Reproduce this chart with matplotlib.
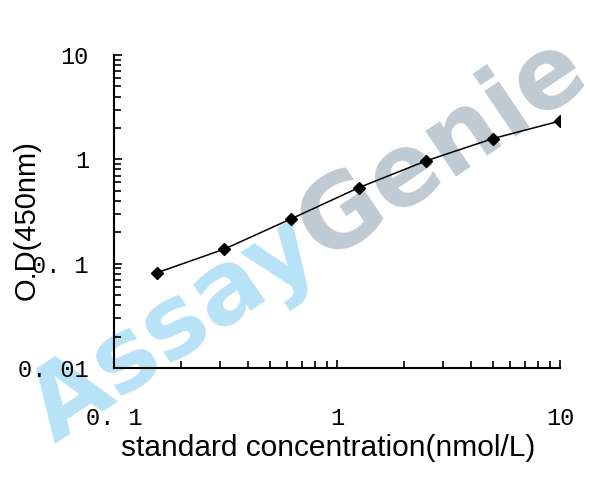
import numpy as np
import matplotlib
matplotlib.use("Agg")
import matplotlib.pyplot as plt
from matplotlib.ticker import LogLocator, NullFormatter, FixedLocator, FixedFormatter

# standard curve data
conc = [0.15625, 0.3125, 0.625, 1.25, 2.5, 5, 10]  # nmol/L
od = [0.082, 0.138, 0.270, 0.534, 0.964, 1.58, 2.33]  # O.D 450nm

x_ticks = [0.1, 1, 10]
x_tick_labels = ['0. 1', '1', '10']
y_ticks = [0.01, 0.1, 1, 10]
y_tick_labels = ['0. 01', '0. 1', '1', '10']

W, H = 590, 478
fig = plt.figure(figsize=(W / 100, H / 100), dpi=100)
ax = fig.add_axes([0.1932, 0.2301, 0.7558, 0.6548])
ax.set_facecolor('none')

# watermark, drawn behind the curve
angle = 34
wm_size = 72
wm_font = 'DejaVu Sans'
x0, y0 = 54, H - 444  # baseline start of "Assay" in pixels
fig.canvas.draw()
tmp = fig.text(0, 0, 'Assay', fontsize=wm_size, fontweight='bold', family=wm_font)
adv = tmp.get_window_extent(fig.canvas.get_renderer()).width
tmp.remove()
x1 = x0 + adv * np.cos(np.radians(angle))
y1 = y0 + adv * np.sin(np.radians(angle))
ax.text(x0 / W, y0 / H, 'Assay', fontsize=wm_size, fontweight='bold', color='#b8e2f6',
        rotation=angle, rotation_mode='anchor', ha='left', va='baseline',
        family=wm_font, transform=fig.transFigure, zorder=0, clip_on=False)
ax.text(x1 / W, y1 / H, 'Genie', fontsize=wm_size, fontweight='bold', color='#c0cad3',
        rotation=angle, rotation_mode='anchor', ha='left', va='baseline',
        family=wm_font, transform=fig.transFigure, zorder=0, clip_on=False)

ax.plot(conc, od, color='black', lw=1.1, marker='D', ms=6, mfc='black', mec='black', zorder=3)

ax.set_xscale('log')
ax.set_yscale('log')
ax.set_xlim(0.1, 10)
ax.set_ylim(0.01, 10)

ax.xaxis.set_major_locator(FixedLocator(x_ticks))
ax.xaxis.set_major_formatter(FixedFormatter(x_tick_labels))
ax.yaxis.set_major_locator(FixedLocator(y_ticks))
ax.yaxis.set_major_formatter(FixedFormatter(y_tick_labels))
ax.xaxis.set_minor_locator(LogLocator(base=10, subs=np.arange(2, 10)))
ax.yaxis.set_minor_locator(LogLocator(base=10, subs=np.arange(2, 10)))
ax.xaxis.set_minor_formatter(NullFormatter())
ax.yaxis.set_minor_formatter(NullFormatter())

ax.spines['top'].set_visible(False)
ax.spines['right'].set_visible(False)
ax.spines['left'].set_linewidth(1.5)
ax.spines['bottom'].set_linewidth(1.5)

ax.tick_params(axis='both', which='both', direction='in', width=1.2, colors='black')
ax.tick_params(axis='both', which='major', length=6)
ax.tick_params(axis='both', which='minor', length=5)
ax.tick_params(axis='y', which='major', pad=18)
ax.tick_params(axis='x', which='major', pad=28)
for lab in ax.get_xticklabels() + ax.get_yticklabels():
    lab.set_family('Liberation Mono')
    lab.set_fontsize(17)

fig.text(328 / W, 1 - 448 / H, 'standard concentration(nmol/L)', fontsize=21.5,
         family='Liberation Sans', ha='center', va='center')
fig.text(27 / W, 1 - 220 / H, 'O.D(450nm)', fontsize=21, rotation=90,
         family='Liberation Sans', ha='center', va='center')

fig.savefig('out.png', dpi=100)
